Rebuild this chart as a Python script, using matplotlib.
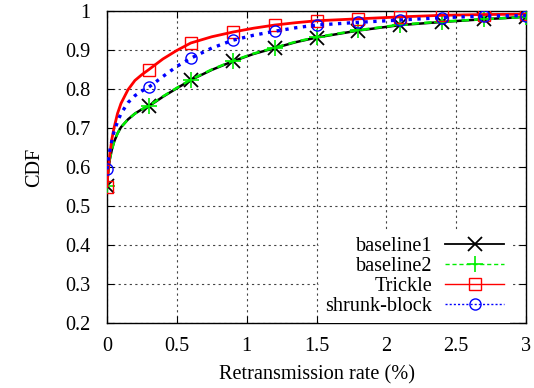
import numpy as np
import matplotlib
matplotlib.use("Agg")
import matplotlib.pyplot as plt
from matplotlib.lines import Line2D

plt.rcParams['font.family'] = ['Liberation Serif', 'DejaVu Serif']
plt.rcParams['font.size'] = 14.6

# retransmission rate (%) sample points of the curves
rate = [0, 0.005, 0.01, 0.02, 0.035, 0.05, 0.075, 0.1, 0.15, 0.2, 0.25, 0.3, 0.4, 0.5,
        0.6, 0.75, 0.9, 1.05, 1.2, 1.35, 1.5, 1.8, 2.1, 2.4, 2.7, 3.0]
# points that carry a marker (every 0.3 %)
mark_idx = [0, 11, 14, 16, 18, 20, 21, 22, 23, 24, 25]

baseline1 = [0.552, 0.575, 0.593, 0.620, 0.645, 0.664, 0.686, 0.702, 0.722, 0.737, 0.748,
             0.756, 0.780, 0.802, 0.823, 0.849, 0.871, 0.890, 0.905, 0.920, 0.932,
             0.950, 0.964, 0.972, 0.979, 0.985]
baseline2 = [0.552, 0.575, 0.593, 0.620, 0.645, 0.664, 0.686, 0.702, 0.722, 0.737, 0.748,
             0.757, 0.781, 0.803, 0.824, 0.850, 0.872, 0.891, 0.906, 0.921, 0.933,
             0.951, 0.965, 0.973, 0.979, 0.985]
trickle = [0.55, 0.575, 0.597, 0.632, 0.672, 0.700, 0.737, 0.763, 0.798, 0.822, 0.837,
           0.850, 0.877, 0.899, 0.918, 0.934, 0.946, 0.956, 0.964, 0.970, 0.975,
           0.980, 0.985, 0.989, 0.991, 0.992]
shrunk = [0.594, 0.607, 0.620, 0.642, 0.668, 0.690, 0.716, 0.737, 0.765, 0.783, 0.795,
          0.805, 0.832, 0.858, 0.879, 0.905, 0.925, 0.938, 0.948, 0.957, 0.964,
          0.971, 0.977, 0.983, 0.987, 0.988]

xticks = [0, 0.5, 1, 1.5, 2, 2.5, 3]
xtick_labels = ['0', '0.5', '1', '1.5', '2', '2.5', '3']
yticks = [0.2, 0.3, 0.4, 0.5, 0.6, 0.7, 0.8, 0.9, 1.0]
ytick_labels = ['0.2', '0.3', '0.4', '0.5', '0.6', '0.7', '0.8', '0.9', '1']

fig = plt.figure(figsize=(5.34, 3.88), dpi=100)
ax = fig.add_axes([0.2004, 0.1675, 0.7846, 0.8041])

ax.plot(rate, baseline1, '-', color='black', lw=1.8, marker='x', ms=10, mew=1.3,
        markevery=mark_idx, zorder=3)
ax.plot(rate, baseline2, '--', color='#00ee00', lw=1.8, dashes=(3, 2), marker='+', ms=12,
        mew=1.2, markevery=mark_idx, zorder=4)
ax.plot(rate, trickle, '-', color='#ff0000', lw=2.0, marker='s', ms=9, mfc='none',
        mew=1.0, markevery=mark_idx, zorder=5)
ax.plot(rate, shrunk, ':', color='#0000ff', lw=2.4, marker='o', ms=8, mfc='none',
        mew=1.0, markevery=mark_idx, zorder=6)

ax.set_xlim(0, 3)
ax.set_ylim(0.2, 1.0)
ax.set_xticks(xticks)
ax.set_xticklabels(xtick_labels)
ax.set_yticks(yticks)
ax.set_yticklabels(ytick_labels)
ax.tick_params(direction='in', top=True, right=True, length=5, width=0.8)
ax.tick_params(axis='x', pad=10)
ax.tick_params(axis='y', pad=12)
ax.grid(True, color='#444444', linestyle=(0, (2, 3)), lw=0.8)
ax.set_axisbelow(True)
for s in ax.spines.values():
    s.set_linewidth(1.0)

ax.set_xlabel('Retransmission rate (%)', labelpad=7)
ax.set_ylabel('CDF', labelpad=15)

handles = [
    Line2D([], [], color='black', lw=1.3, marker='x', ms=10, mew=1.3),
    Line2D([], [], color='#00ee00', lw=1.0, ls=(0, (3, 2)), marker='+', ms=12, mew=1.2),
    Line2D([], [], color='#ff0000', lw=1.0, marker='s', ms=9, mfc='none', mew=1.0),
    Line2D([], [], color='#0000ff', lw=1.0, ls=(0, (1.5, 1.5)), marker='o', ms=8, mfc='none', mew=1.0),
]
labels = ['baseline1', 'baseline2', 'Trickle', 'shrunk-block']
leg = ax.legend(handles, labels, loc='lower right', bbox_to_anchor=(0.962, 0.0015),
                markerfirst=False, frameon=True, fancybox=False, framealpha=1,
                facecolor='white', edgecolor='none', handlelength=2.9,
                handletextpad=0.65, labelspacing=0.05, borderpad=0.3, borderaxespad=0)

fig.savefig('out.png', dpi=100)
